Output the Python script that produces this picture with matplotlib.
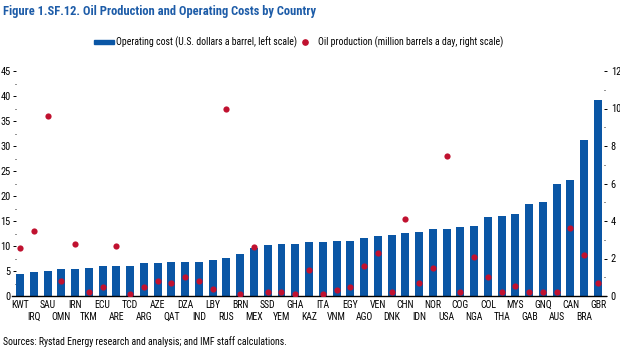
import matplotlib
matplotlib.use("Agg")
import matplotlib.pyplot as plt
from matplotlib.ticker import MultipleLocator
from matplotlib import font_manager as fm
from matplotlib.transforms import blended_transform_factory
import numpy as np

countries = ["KWT", "IRQ", "SAU", "OMN", "IRN", "TKM", "ECU", "ARE", "TCD", "ARG",
             "AZE", "QAT", "DZA", "IND", "LBY", "RUS", "BRN", "MEX", "SSD", "YEM",
             "GHA", "KAZ", "ITA", "VNM", "EGY", "AGO", "VEN", "DNK", "CHN", "IDN",
             "NOR", "USA", "COG", "NGA", "COL", "THA", "MYS", "GAB", "GNQ", "AUS",
             "CAN", "BRA", "GBR"]
operating_cost = [4.4, 4.8, 5.07, 5.33, 5.33, 5.6, 5.93, 5.93, 5.93, 6.67,
                  6.67, 6.8, 6.8, 6.8, 7.27, 7.67, 8.4, 9.67, 10.2, 10.33,
                  10.47, 10.73, 10.73, 10.93, 11.07, 11.6, 12.0, 12.13, 12.6, 12.73,
                  13.33, 13.47, 13.73, 14.07, 15.8, 16.06, 16.46, 18.46, 18.8, 22.4,
                  23.2, 31.3, 39.2]
oil_production = [2.58, 3.48, 9.58, 0.8, 2.79, 0.2, 0.5, 2.68, 0.09, 0.5,
                  0.8, 0.68, 1.0, 0.8, 0.39, 9.97, 0.09, 2.6, 0.2, 0.2,
                  0.09, 1.4, 0.09, 0.3, 0.5, 1.6, 2.29, 0.2, 4.09, 0.69,
                  1.5, 7.47, 0.21, 2.1, 1.0, 0.21, 0.54, 0.21, 0.21, 0.21,
                  3.62, 2.21, 0.7]

title = "Figure 1.SF.12. Oil Production and Operating Costs by Country"
legend_cost = "Operating cost (U.S. dollars a barrel, left scale)"
legend_prod = "Oil production (million barrels a day, right scale)"
source = "Sources: Rystad Energy research and analysis; and IMF staff calculations."


def find_font(patterns):
    for pat in patterns:
        for f in fm.fontManager.ttflist:
            if pat.lower() in f.fname.lower().replace(" ", "").replace("-", "").replace("_", ""):
                return f.fname
    return None


reg_path = find_font(["LiberationSansNarrowRegular.ttf", "LiberationSansNarrow.ttf",
                      "RobotoCondensedRegular", "DejaVuSansCondensed.ttf",
                      "NotoSansCondensedRegular", "OpenSansCondensedRegular"])
bold_path = find_font(["LiberationSansNarrowBold.ttf", "RobotoCondensedBold",
                       "DejaVuSansCondensedBold.ttf", "NotoSansCondensedBold",
                       "OpenSansCondensedBold"])

if reg_path:
    FP = fm.FontProperties(fname=reg_path)
else:
    FP = fm.FontProperties(family="DejaVu Sans", stretch="condensed")
if bold_path:
    FPB = fm.FontProperties(fname=bold_path)
else:
    FPB = fm.FontProperties(family="DejaVu Sans", weight="bold", stretch="condensed")


def fp(size, bold=False):
    p = (FPB if bold else FP).copy()
    p.set_size(size)
    return p


BLUE = "#0a56a5"
RED = "#c0112f"
TITLE_BLUE = "#1d5ca8"

W, H = 620, 358
fig = plt.figure(figsize=(W / 100, H / 100), dpi=100)
ax = fig.add_axes([15.9 / W, 62 / H, 588.3 / W, 225 / H])
ax2 = ax.twinx()

x = np.arange(len(countries))
ax.bar(x, operating_cost, width=0.58, color=BLUE, zorder=2)
ax2.scatter(x, oil_production, s=20, color=RED, zorder=3, linewidths=0)

ax.set_xlim(-0.3, len(countries) - 1 + 0.45)
ax.set_ylim(0, 45)
ax2.set_ylim(0, 12)

for a in (ax, ax2):
    for s in ("top", "left", "right", "bottom"):
        a.spines[s].set_visible(False)
ax.axhline(0, xmin=-0.006, xmax=1.003, color="black", linewidth=1.0,
           clip_on=False, zorder=4)

ax.yaxis.set_major_locator(MultipleLocator(5))
ax.yaxis.set_minor_locator(MultipleLocator(2.5))
ax2.yaxis.set_major_locator(MultipleLocator(2))
ax2.yaxis.set_minor_locator(MultipleLocator(1))
ax.tick_params(axis="y", which="major", length=2.2, width=0.7, pad=1.5)
ax.tick_params(axis="y", which="minor", length=0.8, width=0.6)
ax2.tick_params(axis="y", which="major", length=2.2, width=0.7, pad=2.5)
ax2.tick_params(axis="y", which="minor", length=0.8, width=0.6)
for lab in ax.get_yticklabels() + ax2.get_yticklabels():
    lab.set_fontproperties(fp(7.5))

ax.set_xticks([])
tr = blended_transform_factory(ax.transData, fig.transFigure)
for i, c in enumerate(countries):
    ypx = 305 if i % 2 == 0 else 317
    ax.text(x[i], 1 - ypx / H, c, transform=tr, ha="center", va="center",
            fontproperties=fp(7))

fig.text(3 / W, 1 - 12 / H, title, fontproperties=fp(9, bold=True),
         color=TITLE_BLUE, va="center", ha="left")

# legend
ly = 1 - 42 / H
fig.patches.append(plt.Rectangle((94 / W, ly - 2 / H), 20 / W, 4.5 / H,
                                 transform=fig.transFigure, color=BLUE, figure=fig))
fig.text(116 / W, ly, legend_cost, fontproperties=fp(7), va="center", ha="left")
fig.add_artist(plt.Line2D([305 / W], [ly], marker="o", markersize=3.8, color=RED,
                          linestyle="none", transform=fig.transFigure))
fig.text(318 / W, ly, legend_prod, fontproperties=fp(7), va="center", ha="left")

fig.text(3 / W, 1 - 342 / H, source, fontproperties=fp(7), va="center", ha="left")

fig.savefig("out.png", dpi=100)
